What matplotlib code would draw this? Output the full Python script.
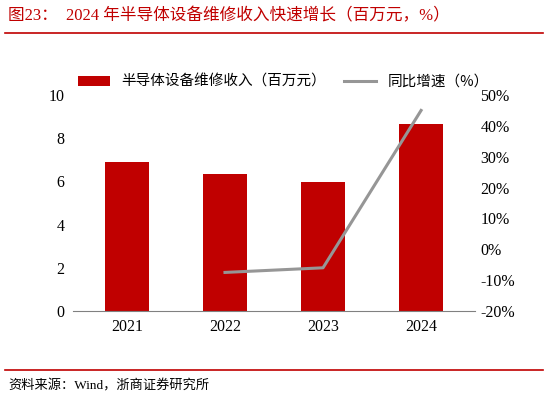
import matplotlib.pyplot as plt
import numpy as np

plt.rcParams['font.family'] = ['Liberation Serif', 'Noto Sans CJK SC']

years = ['2021', '2022', '2023', '2024']
revenue = [6.88, 6.35, 5.97, 8.65]
growth_years = ['2022', '2023', '2024']
growth = [-7.5, -6.0, 45.0]

W, H = 548, 403
fig = plt.figure(figsize=(W / 100, H / 100), dpi=100)
red = '#c00000'

fig.text(8 / W, 1 - 16 / H, '图23：  2024 年半导体设备维修收入快速增长（百万元，%）',
         color=red, fontsize=12, va='center', ha='left')
fig.add_artist(plt.Line2D([5 / W, 543 / W], [1 - 33 / H] * 2, color=red, lw=1.2))
fig.add_artist(plt.Line2D([5 / W, 543 / W], [1 - 370 / H] * 2, color=red, lw=1.2))
fig.text(8 / W, 1 - 386 / H, '资料来源：Wind，浙商证券研究所', fontsize=9.5, va='center')

ax = fig.add_axes([73 / W, 1 - 311 / H, (475 - 73) / W, (311 - 95) / H])
x = np.arange(len(years))
ax.bar(x, revenue, width=0.45, color=red, label='半导体设备维修收入（百万元）')
ax.set_ylim(0, 10)
ax.set_xlim(-0.55, 3.55)
ax.set_xticks(x)
ax.set_xticklabels(years)
ax.set_yticks(range(0, 11, 2))
for s in ['top', 'right', 'left']:
    ax.spines[s].set_visible(False)
ax.spines['bottom'].set_color('#808080')
ax.tick_params(axis='both', length=0, labelsize=11.5, pad=6)

ax2 = ax.twinx()
gx = [years.index(y) for y in growth_years]
ax2.plot(gx, growth, color='#969696', lw=2.2, label='同比增速（%）')
ax2.set_ylim(-20, 50)
ax2.set_yticks(range(-20, 51, 10))
ax2.set_yticklabels([f'{v}%' for v in range(-20, 51, 10)])
for s in ['top', 'right', 'left', 'bottom']:
    ax2.spines[s].set_visible(False)
ax2.tick_params(axis='y', length=0, labelsize=11.5, pad=4)

h1, l1 = ax.get_legend_handles_labels()
h2, l2 = ax2.get_legend_handles_labels()
fig.legend(h1 + h2, l1 + l2, loc='center', bbox_to_anchor=(283 / W, 1 - 82 / H),
           ncol=2, frameon=False, handlelength=2.2, columnspacing=1.2,
           prop={'family': ['Noto Sans CJK SC'], 'size': 10.5})

fig.savefig('out.png', dpi=100)
